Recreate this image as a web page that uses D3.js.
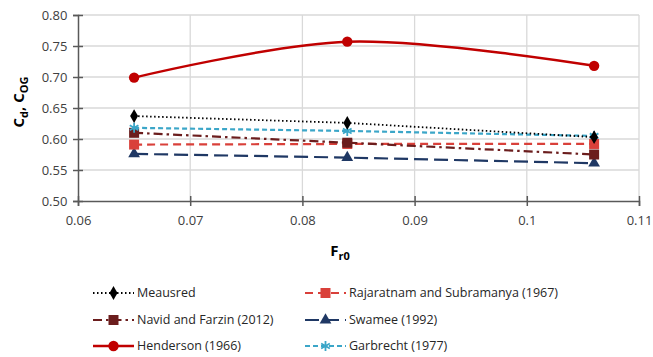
<!DOCTYPE html>
<html>
<head>
<meta charset="utf-8">
<script src="https://cdn.jsdelivr.net/npm/d3@7"></script>
<style>
  body { margin: 0; background: #fff; }
  text { font-family: "Open Sans", "Liberation Sans", sans-serif; }
</style>
</head>
<body>
<div id="chart"></div>
<script>
// data
var froude = [0.065, 0.084, 0.106];
var measured = [0.637, 0.626, 0.603];
var rajaratnam = [0.591, 0.592, 0.592];
var navid = [0.610, 0.594, 0.575];
var swamee = [0.576, 0.570, 0.561];
var henderson = [0.699, 0.757, 0.718];
var garbrecht = [0.618, 0.613, 0.605];
var xTicks = [0.06, 0.07, 0.08, 0.09, 0.1, 0.11];
var yTicks = [0.50, 0.55, 0.60, 0.65, 0.70, 0.75, 0.80];

var margin = {top: 15, right: 14, bottom: 156, left: 78},
    width = 653 - margin.left - margin.right,
    height = 357 - margin.top - margin.bottom;

var svg = d3.select("#chart")
  .append("svg")
    .attr("width", 653)
    .attr("height", 357);

var g = svg.append("g")
    .attr("transform", "translate(" + margin.left + "," + margin.top + ")");

var x = d3.scaleLinear().domain([0.06, 0.11]).range([0, 561]);
var y = d3.scaleLinear().domain([0.5, 0.8]).range([186, 0]);

// gridlines
g.append("g").selectAll("line").data(yTicks.slice(1)).join("line")
  .attr("x1", 0).attr("x2", x(0.11))
  .attr("y1", d => y(d)).attr("y2", d => y(d))
  .attr("stroke", "#d9d9d9").attr("stroke-width", 1.3);
g.append("g").selectAll("line").data(xTicks.slice(1)).join("line")
  .attr("x1", d => x(d)).attr("x2", d => x(d))
  .attr("y1", 0).attr("y2", y(0.5))
  .attr("stroke", "#d9d9d9").attr("stroke-width", 1.3);

// axes
var xAxis = g.append("g")
  .attr("transform", "translate(0," + y(0.5) + ")")
  .call(d3.axisBottom(x).tickValues(xTicks).tickSize(5)
    .tickFormat(d => d3.format("")(+d.toFixed(2))));
xAxis.selectAll(".tick line").attr("y1", -5);
var yAxis = g.append("g")
  .call(d3.axisLeft(y).tickValues(yTicks).tickSize(5).tickFormat(d3.format(".2f")));
yAxis.selectAll(".tick line").attr("x1", 5);

[xAxis, yAxis].forEach(function(a) {
  a.select(".domain").attr("stroke", "#595959").attr("stroke-width", 1.5);
  a.selectAll(".tick line").attr("stroke", "#595959").attr("stroke-width", 1.5);
  a.selectAll("text").attr("fill", "#404040").style("font-size", "13px");
});
xAxis.selectAll("text").attr("dy", "1.2em");
yAxis.selectAll("text").attr("dx", "-0.2em");

// axis titles
var yl = svg.append("text")
  .attr("transform", "translate(24," + (margin.top + 87) + ") rotate(-90)")
  .attr("text-anchor", "middle")
  .attr("fill", "#000")
  .style("font-size", "15px").style("font-weight", "bold");
yl.append("tspan").text("C");
yl.append("tspan").attr("dy", 4).style("font-size", "11px").text("d");
yl.append("tspan").attr("dy", -4).text(", C");
yl.append("tspan").attr("dy", 4).style("font-size", "11px").text("OG");

var xl = svg.append("text")
  .attr("x", 340).attr("y", 256)
  .attr("text-anchor", "middle")
  .style("font-size", "15px").style("font-weight", "bold");
xl.append("tspan").text("F");
xl.append("tspan").attr("dy", 4).style("font-size", "11px").text("r0");

var series = [
  {name: "Meausred", values: measured, color: "#000000", dash: "1.5,2.5", width: 1.8, marker: "diamond", curve: d3.curveLinear},
  {name: "Rajaratnam and Subramanya (1967)", values: rajaratnam, color: "#d9403a", dash: "8,5", width: 2.2, marker: "square", curve: d3.curveLinear},
  {name: "Navid and Farzin (2012)", values: navid, color: "#6b1d1d", dash: "9,4,2.5,4", width: 2.2, marker: "square", curve: d3.curveLinear},
  {name: "Swamee (1992)", values: swamee, color: "#1f3864", dash: "14,6", width: 2.2, marker: "triangle", curve: d3.curveLinear},
  {name: "Henderson (1966)", values: henderson, color: "#c00000", dash: null, width: 2.5, marker: "circle", curve: d3.curveCatmullRom.alpha(0.5)},
  {name: "Garbrecht (1977)", values: garbrecht, color: "#3ba6c8", dash: "5,3", width: 2.2, marker: "star", curve: d3.curveLinear}
];

var drawOrder = [series[4], series[3], series[1], series[2], series[5], series[0]];

function symbolFor(m) {
  if (m === "diamond") return d3.symbol().type(d3.symbolDiamond).size(55);
  if (m === "square") return d3.symbol().type(d3.symbolSquare).size(100);
  if (m === "triangle") return d3.symbol().type(d3.symbolTriangle).size(60);
  if (m === "circle") return d3.symbol().type(d3.symbolCircle).size(85);
  return d3.symbol().type(d3.symbolAsterisk).size(70);
}

drawOrder.forEach(function(s) {
  var pts = froude.map((f, i) => [f, s.values[i]]);
  g.append("path")
    .datum(pts)
    .attr("fill", "none")
    .attr("stroke", s.color)
    .attr("stroke-width", s.width)
    .attr("stroke-dasharray", s.dash)
    .attr("d", d3.line().curve(s.curve).x(d => x(d[0])).y(d => y(d[1])));
  g.append("g").selectAll("path").data(pts).join("path")
    .attr("transform", d => "translate(" + x(d[0]) + "," + y(d[1]) + ")")
    .attr("d", symbolFor(s.marker)())
    .attr("fill", s.color)
    .attr("stroke", s.color)
    .attr("stroke-width", s.marker === "star" ? 1.8 : 0);
});

// legend
var legendPos = [
  [93, 293], [305, 293],
  [93, 320], [305, 320],
  [93, 346], [305, 346]
];
series.forEach(function(s, i) {
  var lx = legendPos[i][0], ly = legendPos[i][1];
  var lg = svg.append("g").attr("transform", "translate(" + lx + "," + ly + ")");
  lg.append("line")
    .attr("x1", 0).attr("x2", 41).attr("y1", 0).attr("y2", 0)
    .attr("stroke", s.color).attr("stroke-width", s.width)
    .attr("stroke-dasharray", s.dash);
  lg.append("path")
    .attr("transform", "translate(20.5,0)")
    .attr("d", symbolFor(s.marker)())
    .attr("fill", s.color).attr("stroke", s.color)
    .attr("stroke-width", s.marker === "star" ? 1.8 : 0);
  lg.append("text")
    .attr("x", 44).attr("y", 0).attr("dy", "0.35em")
    .attr("fill", "#262626")
    .style("font-size", "12.5px")
    .attr("textLength", null)
    .text(s.name);
});
</script>
</body>
</html>
